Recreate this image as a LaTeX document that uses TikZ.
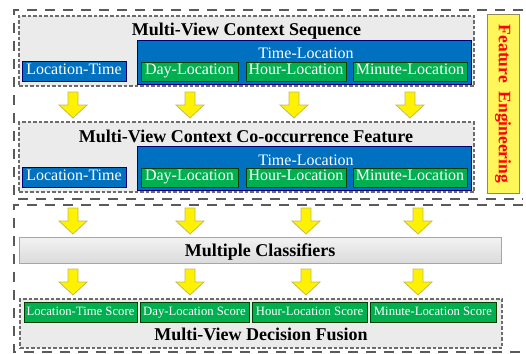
\documentclass[tikz,border=0pt]{standalone}
\usepackage{fontspec}
\setmainfont{Liberation Serif}
\usetikzlibrary{shadings}

\definecolor{boxblue}{RGB}{0,112,192}
\definecolor{boxgreen}{RGB}{0,176,80}
\definecolor{dashgray}{RGB}{90,90,90}

\tikzset{
  outerline/.style={draw=dashgray, line width=1.6pt, dash pattern=on 10pt off 8pt},
  panel/.style={draw=gray!85!black, line width=1.1pt, dash pattern=on 3.5pt off 2pt, fill=gray!16, inner sep=0pt},
  clfbox/.style={draw=gray!70, line width=1pt, top color=gray!10, bottom color=gray!28, inner sep=0pt},
  bluebox/.style={draw=blue!45!black, line width=0.8pt, fill=boxblue, text=white, inner sep=0pt},
  greenbox/.style={draw=green!25!black, line width=0.8pt, fill=boxgreen, text=white, inner sep=0pt},
  labeltext/.style={font=\fontsize{16}{18}\selectfont, text height=0.7em, text depth=0.04em},
  scoretext/.style={font=\fontsize{12.7}{14}\selectfont, text height=0.7em, text depth=0.04em},
  titletext/.style={font=\fontsize{18}{20}\selectfont\bfseries, anchor=base},
  yarrowfill/.style={fill=yellow, draw=olive!55, line width=0.8pt, line join=miter},
}

% block arrow pointing down, top centre at (#1,#2)
\newcommand{\yarrow}[2]{%
  \filldraw[yarrowfill] (#1-5,#2) -- (#1+5,#2) -- (#1+5,#2+13) -- (#1+14,#2+13)
    -- (#1,#2+26) -- (#1-14,#2+13) -- (#1-5,#2+13) -- cycle;}

\begin{document}
\begin{tikzpicture}[x=1pt, y=-1pt]
\useasboundingbox (0,0) rectangle (526,353);

% outer frames
\draw[outerline] (523,10) -- (14,10) -- (14,199) -- (523,199);
\draw[outerline] (523,205) -- (14,205) -- (14,352) -- (523,352);

% feature engineering
\node[draw=gray!60!olive, line width=1pt, fill=yellow!65, minimum width=32pt, minimum height=178pt, inner sep=0pt] (feat) at (503,104) {};
\node[rotate=-90, text=red, font=\fontsize{17.5}{19}\selectfont\bfseries] (feattext) at (feat.center) {Feature\ \ Engineering};

% context sequence
\node[panel, minimum width=455pt, minimum height=70pt] (seqpanel) at (246.5,51) {};
\node[titletext] (seqtitle) at (246.5,35) {Multi-View Context Sequence};
\node[bluebox, labeltext, minimum width=104pt, minimum height=20pt] (ltseq) at (74,71) {Location-Time};
\node[bluebox, minimum width=334pt, minimum height=44pt] (tlseq) at (304,62) {};
\node[font=\fontsize{16}{18}\selectfont, text=white, anchor=base] (tlseqtext) at (306,59) {Time-Location};
\node[greenbox, labeltext, minimum width=97pt, minimum height=19pt] (dayseq) at (189.5,71.5) {Day-Location};
\node[greenbox, labeltext, minimum width=100pt, minimum height=19pt] (hourseq) at (296,71.5) {Hour-Location};
\node[greenbox, labeltext, minimum width=114pt, minimum height=19pt] (minseq) at (410,71.5) {Minute-Location};

\yarrow{73}{92}
\yarrow{190}{92}
\yarrow{294}{92}
\yarrow{410}{92}

% co-occurrence feature
\node[panel, minimum width=455pt, minimum height=70pt] (featpanel) at (246.5,157) {};
\node[titletext] (feattitle) at (246,142) {Multi-View Context Co-occurrence Feature};
\node[bluebox, labeltext, minimum width=104pt, minimum height=20pt] (ltfeat) at (74,177) {Location-Time};
\node[bluebox, minimum width=334pt, minimum height=44pt] (tlfeat) at (304,168) {};
\node[font=\fontsize{16}{18}\selectfont, text=white, anchor=base] (tlfeattext) at (306,165) {Time-Location};
\node[greenbox, labeltext, minimum width=97pt, minimum height=19pt] (dayfeat) at (189.5,177.5) {Day-Location};
\node[greenbox, labeltext, minimum width=100pt, minimum height=19pt] (hourfeat) at (296,177.5) {Hour-Location};
\node[greenbox, labeltext, minimum width=114pt, minimum height=19pt] (minfeat) at (410,177.5) {Minute-Location};

\yarrow{73}{208}
\yarrow{190}{208}
\yarrow{306}{208}
\yarrow{418}{208}

% classifiers
\node[clfbox, minimum width=482pt, minimum height=26pt] (clf) at (260,250) {};
\node[titletext] (clftitle) at (260,256) {Multiple Classifiers};

\yarrow{73}{269}
\yarrow{190}{269}
\yarrow{306}{269}
\yarrow{418}{269}

% decision fusion
\node[panel, minimum width=482pt, minimum height=49pt] (fusion) at (261,323.5) {};
\node[greenbox, scoretext, minimum width=113pt, minimum height=20pt] (ltscore) at (80.5,312) {Location-Time Score};
\node[greenbox, scoretext, minimum width=109pt, minimum height=20pt] (dayscore) at (194.5,312) {Day-Location Score};
\node[greenbox, scoretext, minimum width=115pt, minimum height=20pt] (hourscore) at (309.5,312) {Hour-Location Score};
\node[greenbox, scoretext, minimum width=126pt, minimum height=20pt] (minscore) at (433,312) {Minute-Location Score};
\node[titletext] (fusiontitle) at (261,340) {Multi-View Decision Fusion};

\end{tikzpicture}
\end{document}
